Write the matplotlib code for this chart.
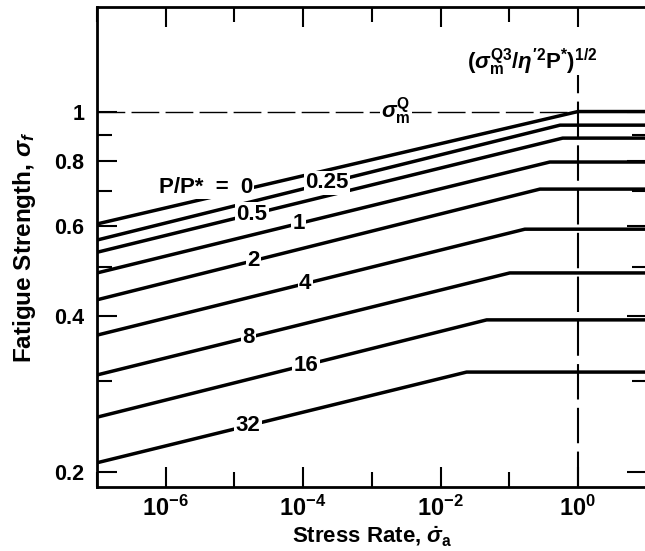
import numpy as np
import matplotlib
matplotlib.use('Agg')
import matplotlib.pyplot as plt
from matplotlib.ticker import FixedLocator, NullFormatter

plt.rcParams['font.family'] = ['Liberation Sans', 'DejaVu Sans']
plt.rcParams['font.weight'] = 'bold'
plt.rcParams['mathtext.fontset'] = 'custom'
plt.rcParams['mathtext.rm'] = 'Liberation Sans:bold'
plt.rcParams['mathtext.bf'] = 'Liberation Sans:bold'
plt.rcParams['mathtext.it'] = 'Liberation Sans:italic'

# P/P* families
ratios = ['0', '0.25', '0.5', '1', '2', '4', '8', '16', '32']
x_start = 1e-7
x_end = 10.0
start_vals = [0.605, 0.563, 0.533, 0.486, 0.431, 0.368, 0.308, 0.255, 0.208]
knee_x = [1.0, 0.55, 0.60, 0.39, 0.28, 0.169, 0.102, 0.047, 0.024]
plateau_vals = [1.0, 0.941, 0.888, 0.798, 0.707, 0.591, 0.486, 0.394, 0.312]
label_logx = [-4.73, -3.65, -4.745, -4.06, -4.716, -3.97, -4.789, -3.96, -4.804]

sigma_m = 1.0
crit_rate = 1.0

xmajor = [1e-6, 1e-4, 1e-2, 1e0]
xmajor_labels = [r'$10^{-6}$', r'$10^{-4}$', r'$10^{-2}$', r'$10^{0}$']
xminor = [1e-7, 1e-5, 1e-3, 1e-1, 1e1]
ymajor = [0.2, 0.4, 0.6, 0.8, 1.0]
ymajor_labels = ['0.2', '0.4', '0.6', '0.8', '1']
yminor = [0.3, 0.5, 0.7, 0.9]

fig = plt.figure(figsize=(6.45, 5.51), dpi=100)
ax = fig.add_axes([97 / 645, 64 / 551, 549.6 / 645, 480 / 551])
ax.set_xscale('log')
ax.set_yscale('log')
ax.set_xlim(x_start, x_end)
ax.set_ylim(10 ** -0.729, 10 ** 0.203)

for i, r in enumerate(ratios):
    xs = [x_start, knee_x[i], x_end]
    ys = [start_vals[i], plateau_vals[i], plateau_vals[i]]
    ax.plot(xs, ys, color='black', lw=2.5, solid_joinstyle='round', zorder=3)
    lx = label_logx[i]
    ly = np.interp(lx, np.log10(xs), np.log10(ys))
    if r == '0':
        txt, ha = 'P/P*  =  0', 'right'
    else:
        txt, ha = r, 'center'
    ax.text(10 ** lx, 10 ** ly, txt, ha=ha, va='center', fontsize=16,
            fontweight='bold', zorder=4,
            bbox=dict(boxstyle='square,pad=0.06', fc='white', ec='none'))

# dashed reference lines
ax.plot([x_start, crit_rate], [sigma_m, sigma_m], color='black', lw=1.0,
        dashes=(20, 4.5), zorder=2)
ax.plot([crit_rate, crit_rate], [10 ** -0.729, 1.177], color='black', lw=1.5,
        dashes=(17, 4), zorder=2)

ax.text(10 ** -2.65, 1.0, r'$\sigma_\mathbf{m}^\mathbf{Q}$', ha='center',
        va='center', fontsize=16, zorder=4,
        bbox=dict(boxstyle='square,pad=0.05', fc='white', ec='none'))
ax.text(10 ** -0.67, 1.25,
        r'$(\sigma_\mathbf{m}^\mathbf{Q3}/\eta^{\prime 2}\mathbf{P}^{*})^{\mathbf{1/2}}$',
        ha='center', va='center', fontsize=16)

ax.xaxis.set_major_locator(FixedLocator(xmajor))
ax.xaxis.set_minor_locator(FixedLocator(xminor))
ax.xaxis.set_minor_formatter(NullFormatter())
ax.set_xticklabels(xmajor_labels)
ax.yaxis.set_major_locator(FixedLocator(ymajor))
ax.yaxis.set_minor_locator(FixedLocator(yminor))
ax.yaxis.set_minor_formatter(NullFormatter())
ax.set_yticklabels(ymajor_labels)

ax.tick_params(which='both', direction='in', top=True, right=True, width=1.5)
ax.tick_params(which='major', length=14.5)
ax.tick_params(which='minor', length=10.5)
ax.tick_params(axis='y', labelsize=15.5, pad=9)
ax.tick_params(axis='x', labelsize=17, pad=6)
for s in ax.spines.values():
    s.set_linewidth(2.0)

ax.set_xlabel(r'Stress Rate, $\dot{\sigma}_\mathbf{a}$', fontsize=16,
              fontweight='bold')
ax.set_ylabel(r'Fatigue Strength, $\sigma_f$', fontsize=17.5,
              fontweight='bold')
ax.yaxis.set_label_coords(-0.108, 0.5)
ax.xaxis.set_label_coords(0.5, -0.08)

fig.savefig('out.png', dpi=100)
